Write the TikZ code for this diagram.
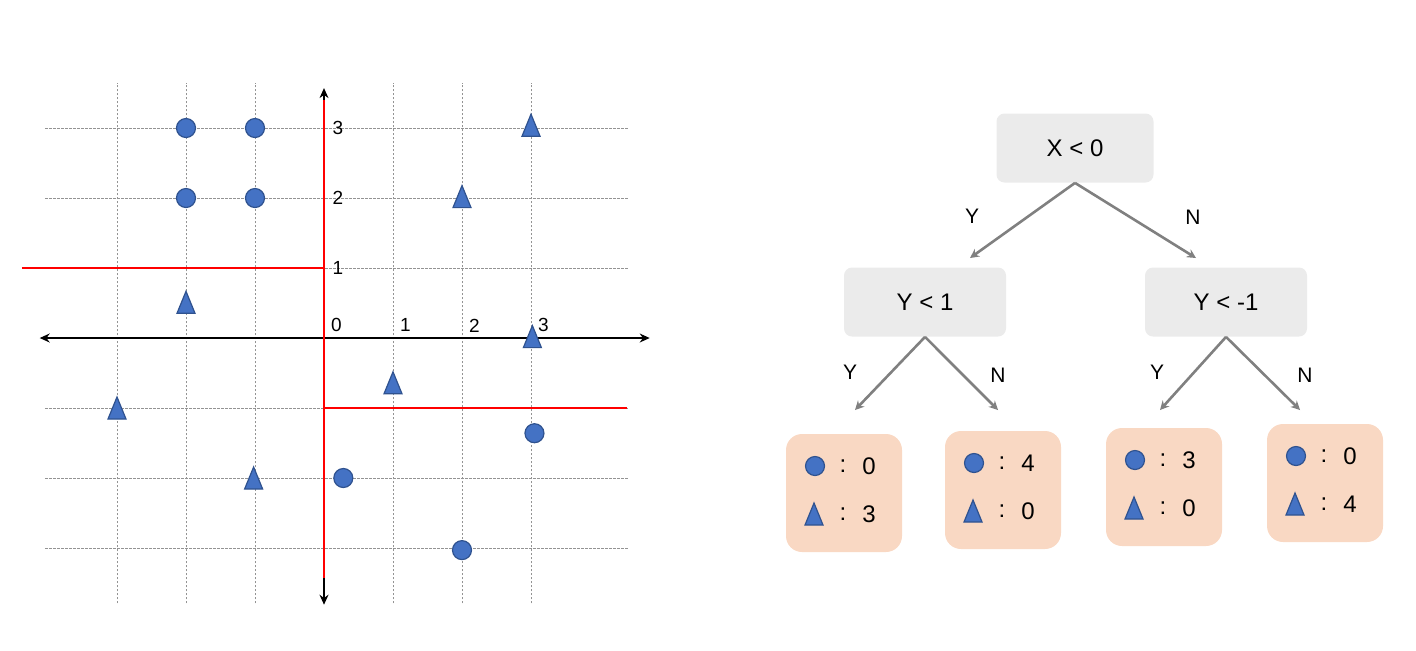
\documentclass[tikz,border=0pt]{standalone}
\usepackage{fontspec}
\setmainfont{Liberation Sans}
\usetikzlibrary{arrows.meta}

\definecolor{markblue}{HTML}{4472C4}
\definecolor{markedge}{HTML}{2F528F}
\definecolor{boxgray}{HTML}{EBEBEB}
\definecolor{leafpeach}{HTML}{F9D8C3}
\definecolor{edgegray}{HTML}{808080}

\tikzset{
  gridline/.style={gray!85, line width=0.45pt, dash pattern=on 1.2pt off 0.8pt},
  axisline/.style={black, line width=0.6pt, {Stealth[length=5pt,width=4.5pt]}-{Stealth[length=5pt,width=4.5pt]}},
  splitline/.style={red, line width=1pt},
  dot/.style={circle, draw=markedge, fill=markblue, line width=0.6pt, inner sep=0pt, minimum size=9.5pt},
  tri/.pic={\draw[draw=markedge, fill=markblue, line width=0.6pt] (-4.5pt,-5.5pt) -- (4.5pt,-5.5pt) -- (0,5.5pt) -- cycle;},
  testbox/.style={rounded corners=4pt, fill=boxgray, minimum width=81pt, minimum height=34.5pt, font=\fontsize{12}{14}\selectfont},
  leafbox/.style={rounded corners=8pt, fill=leafpeach, minimum width=58pt, minimum height=59pt},
  branch/.style={-{Stealth[length=4.5pt,width=4.5pt]}, edgegray, line width=1.3pt},
  branchlbl/.style={font=\fontsize{10.5}{12}\selectfont, inner sep=0pt},
  ticklbl/.style={font=\fontsize{9.5}{11}\selectfont, inner sep=0pt},
  count/.style={font=\fontsize{12}{14}\selectfont, inner sep=0pt},
}

\begin{document}
\begin{tikzpicture}[x=0.5pt, y=-0.5pt]
  \useasboundingbox (0,0) rectangle (1416,650);

  % scatter plot with the two splits
  \begin{scope}[shift={(324,338)}, x=34.5pt, y=35pt]
    \foreach \k in {-3,-2,-1,1,2,3} \draw[gridline] (\k,-3.79) -- (\k,3.64);
    \foreach \k in {-3,-2,-1,1,2,3} \draw[gridline] (-4.04,\k) -- (4.41,\k);
    \coordinate (xl) at (-4.12,0);
    \coordinate (xr) at (4.72,0);
    \coordinate (yb) at (0,-3.81);
    \coordinate (yt) at (0,3.57);
    \draw[axisline] (xl) -- (xr);
    \draw[axisline] (yb) -- (yt);
    \draw[splitline] (0,-3.43) -- (0,3.4);
    \draw[splitline] (-4.38,1) -- (0,1);
    \draw[splitline] (0,-1) -- (4.39,-1);
    \foreach \k in {0,1,2,3} \node[ticklbl] (xt\k) at (\k+0.18,0.18) {\k};
    \foreach \k in {1,2,3} \node[ticklbl] (yt\k) at (0.2,\k) {\k};
    % circles
    \node[dot] (c1) at (-2,3) {};
    \node[dot] (c2) at (-1,3) {};
    \node[dot] (c3) at (-2,2) {};
    \node[dot] (c4) at (-1,2) {};
    \node[dot] (c5) at (0.28,-2) {};
    \node[dot] (c6) at (3.05,-1.36) {};
    \node[dot] (c7) at (2,-3.03) {};
    % triangles
    \pic (t1) at (3,3.04) {tri};
    \pic (t2) at (2,2.02) {tri};
    \pic (t3) at (-2,0.51) {tri};
    \pic (t4) at (3.02,0.02) {tri};
    \pic (t5) at (1,-0.64) {tri};
    \pic (t6) at (-3,-1) {tri};
    \pic (t7) at (-1.02,-2) {tri};
  \end{scope}

  % decision tree
  \node[testbox, minimum width=78.5pt] (root) at (1075,148) {X < 0};
  \node[testbox] (left) at (925,302) {Y < 1};
  \node[testbox] (right) at (1226,302) {Y < -1};

  \coordinate (root-y) at (970,258);
  \coordinate (root-n) at (1196,258);
  \coordinate (left-y) at (855,410);
  \coordinate (left-n) at (998,410);
  \coordinate (right-y) at (1160,410);
  \coordinate (right-n) at (1300,410);
  \draw[branch] (root.south) -- (root-y);
  \draw[branch] (root.south) -- (root-n);
  \draw[branch] (left.south) -- (left-y);
  \draw[branch] (left.south) -- (left-n);
  \draw[branch] (right.south) -- (right-y);
  \draw[branch] (right.south) -- (right-n);

  \node[branchlbl] (lbl-root-y) at (972,216) {Y};
  \node[branchlbl] (lbl-root-n) at (1193,217) {N};
  \node[branchlbl] (lbl-left-y) at (850,372) {Y};
  \node[branchlbl] (lbl-left-n) at (998,375) {N};
  \node[branchlbl] (lbl-right-y) at (1157,372) {Y};
  \node[branchlbl] (lbl-right-n) at (1305,375) {N};

  % leaves with class counts
  \foreach \n/\x/\y/\c/\t in {1/844/493/0/3, 2/1003/490/4/0, 3/1164/487/3/0, 4/1325/483/0/4} {
    \node[leafbox] (leaf\n) at (\x,\y) {};
    \node[dot] (leaf\n-dot) at ([xshift=-14.5pt,yshift=13.5pt]leaf\n.center) {};
    \pic (leaf\n-tri) at ([xshift=-15pt,yshift=-10.5pt]leaf\n.center) {tri};
    \node[count] (leaf\n-c1) at ([xshift=-0.5pt,yshift=13.5pt]leaf\n.center) {:};
    \node[count] (leaf\n-v1) at ([xshift=12.5pt,yshift=13.5pt]leaf\n.center) {\c};
    \node[count] (leaf\n-c2) at ([xshift=-0.5pt,yshift=-10.5pt]leaf\n.center) {:};
    \node[count] (leaf\n-v2) at ([xshift=12.5pt,yshift=-10.5pt]leaf\n.center) {\t};
  }
\end{tikzpicture}
\end{document}
